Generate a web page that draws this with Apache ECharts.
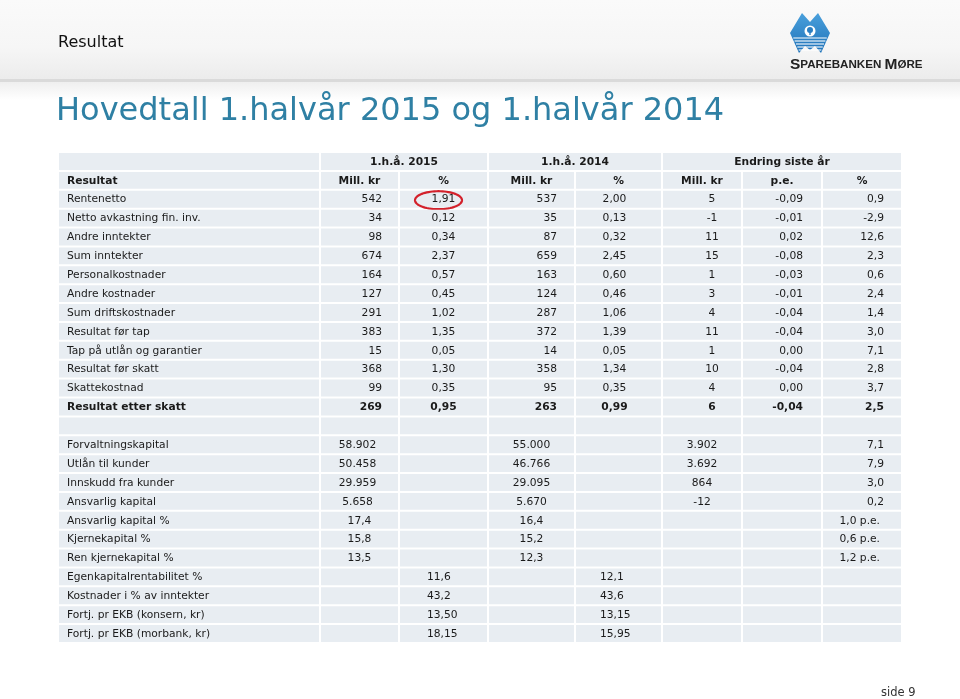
<!DOCTYPE html>
<html><head><meta charset="utf-8">
<script src="https://cdn.jsdelivr.net/npm/echarts@6/dist/echarts.min.js"></script>
<style>html,body{margin:0;padding:0;background:#fff}#c{width:960px;height:699px}</style>
</head><body><div id="c"></div>
<script>
// ---------- data ----------
const groupHeaders = ['1.h.å. 2015', '1.h.å. 2014', 'Endring siste år'];
const subHeaders = ['Resultat', 'Mill. kr', '%', 'Mill. kr', '%', 'Mill. kr', 'p.e.', '%'];

const resultLabels = ['Rentenetto', 'Netto avkastning fin. inv.', 'Andre inntekter', 'Sum inntekter',
  'Personalkostnader', 'Andre kostnader', 'Sum driftskostnader', 'Resultat før tap',
  'Tap på utlån og garantier', 'Resultat før skatt', 'Skattekostnad', 'Resultat etter skatt'];
const mill2015 = [542, 34, 98, 674, 164, 127, 291, 383, 15, 368, 99, 269];
const pct2015 = [1.91, 0.12, 0.34, 2.37, 0.57, 0.45, 1.02, 1.35, 0.05, 1.30, 0.35, 0.95];
const mill2014 = [537, 35, 87, 659, 163, 124, 287, 372, 14, 358, 95, 263];
const pct2014 = [2.00, 0.13, 0.32, 2.45, 0.60, 0.46, 1.06, 1.39, 0.05, 1.34, 0.35, 0.99];
const chgMill = [5, -1, 11, 15, 1, 3, 4, 11, 1, 10, 4, 6];
const chgPe = [-0.09, -0.01, 0.02, -0.08, -0.03, -0.01, -0.04, -0.04, 0.00, -0.04, 0.00, -0.04];
const chgPct = [0.9, -2.9, 12.6, 2.3, 0.6, 2.4, 1.4, 3.0, 7.1, 2.8, 3.7, 2.5];

const balanceLabels = ['Forvaltningskapital', 'Utlån til kunder', 'Innskudd fra kunder', 'Ansvarlig kapital'];
const bal2015 = [58902, 50458, 29959, 5658];
const bal2014 = [55000, 46766, 29095, 5670];
const balChg = [3902, 3692, 864, -12];
const balChgPct = [7.1, 7.9, 3.0, 0.2];

const capitalLabels = ['Ansvarlig kapital %', 'Kjernekapital %', 'Ren kjernekapital %'];
const cap2015 = [17.4, 15.8, 13.5];
const cap2014 = [16.4, 15.2, 12.3];
const capChgPe = [1.0, 0.6, 1.2];

const keyLabels = ['Egenkapitalrentabilitet %', 'Kostnader i % av inntekter',
  'Fortj. pr EKB (konsern, kr)', 'Fortj. pr EKB (morbank, kr)'];
const key2015 = [11.6, 43.2, 13.50, 18.15];
const key2014 = [12.1, 43.6, 13.15, 15.95];
const keyDecimals = [1, 1, 2, 2];

// ---------- layout ----------
const colEdges = [0, 262, 341, 430, 517, 604, 684, 764, 844];
const FONT = 'DejaVu Sans';
const FS = 10.7;
const CELL_BG = '#e8edf2';

const dec = (v, n) => v.toFixed(n).replace('.', ',');
const thou = v => (v < 0 ? '-' : '') + String(Math.abs(v)).replace(/\B(?=(\d{3})+(?!\d))/g, '.');

const cells = [];
function add(row, c0, c1, text, align, opt) {
  cells.push(Object.assign({ row, c0, c1, text: text, align: align || 'center', pad: 0, dx: 0, bold: false, hl: false }, opt || {}));
}
// header rows
add(0, 0, 0, '');
add(0, 1, 2, groupHeaders[0], 'center', { bold: true });
add(0, 3, 4, groupHeaders[1], 'center', { bold: true });
add(0, 5, 7, groupHeaders[2], 'center', { bold: true });
subHeaders.forEach((h, i) => add(1, i, i, h, i === 0 ? 'left' : 'center', { bold: true, pad: 9 }));
// result rows
resultLabels.forEach((lab, i) => {
  const r = 2 + i, b = i === resultLabels.length - 1;
  add(r, 0, 0, lab, 'left', { pad: 9, bold: b });
  add(r, 1, 1, String(mill2015[i]), 'right', { pad: 17, bold: b });
  add(r, 2, 2, dec(pct2015[i], 2), 'center', { bold: b, hl: i === 0 });
  add(r, 3, 3, String(mill2014[i]), 'right', { pad: 18, bold: b });
  add(r, 4, 4, dec(pct2014[i], 2), 'center', { dx: -4, bold: b });
  add(r, 5, 5, String(chgMill[i]), 'center', { dx: 10, bold: b });
  add(r, 6, 6, dec(chgPe[i], 2), 'right', { pad: 19, bold: b });
  add(r, 7, 7, dec(chgPct[i], 1), 'right', { pad: 18, bold: b });
});
// blank row
const blankRow = 2 + resultLabels.length;
for (let c = 0; c < 8; c++) add(blankRow, c, c, '');
// balance rows
balanceLabels.forEach((lab, i) => {
  const r = blankRow + 1 + i;
  add(r, 0, 0, lab, 'left', { pad: 9 });
  add(r, 1, 1, thou(bal2015[i]), 'center', { dx: -2 });
  add(r, 2, 2, '');
  add(r, 3, 3, thou(bal2014[i]), 'center');
  add(r, 4, 4, '');
  add(r, 5, 5, thou(balChg[i]), 'center');
  add(r, 6, 6, '');
  add(r, 7, 7, dec(balChgPct[i], 1), 'right', { pad: 18 });
});
// capital rows
capitalLabels.forEach((lab, i) => {
  const r = blankRow + 1 + balanceLabels.length + i;
  add(r, 0, 0, lab, 'left', { pad: 9 });
  add(r, 1, 1, dec(cap2015[i], 1), 'center');
  add(r, 2, 2, '');
  add(r, 3, 3, dec(cap2014[i], 1), 'center');
  add(r, 4, 4, '');
  add(r, 5, 5, '');
  add(r, 6, 6, '');
  add(r, 7, 7, dec(capChgPe[i], 1) + ' p.e.', 'right', { pad: 22 });
});
// key figure rows
keyLabels.forEach((lab, i) => {
  const r = blankRow + 1 + balanceLabels.length + capitalLabels.length + i;
  add(r, 0, 0, lab, 'left', { pad: 9 });
  add(r, 1, 1, '');
  add(r, 2, 2, dec(key2015[i], keyDecimals[i]), 'left', { pad: 28 });
  add(r, 3, 3, '');
  add(r, 4, 4, dec(key2014[i], keyDecimals[i]), 'left', { pad: 25 });
  add(r, 5, 5, '');
  add(r, 6, 6, '');
  add(r, 7, 7, '');
});
const nRows = blankRow + 1 + balanceLabels.length + capitalLabels.length + keyLabels.length;
const rowCats = Array.from({ length: nRows }, (_, i) => 'r' + i);

function renderItem(params, api) {
  const d = cells[params.dataIndex];
  const pL = api.coord([colEdges[d.c0], d.row]);
  const pR = api.coord([colEdges[d.c1 + 1], d.row]);
  const h = api.size([0, 1])[1];
  const x0 = pL[0], x1 = pR[0], cy = pL[1];
  const children = [{
    type: 'rect',
    shape: { x: x0 + 1, y: cy - h / 2 + 1, width: x1 - x0 - 2, height: h - 2 },
    style: { fill: CELL_BG }
  }];
  if (d.text) {
    let tx;
    if (d.align === 'left') tx = x0 + d.pad;
    else if (d.align === 'right') tx = x1 - d.pad;
    else tx = (x0 + x1) / 2;
    tx += d.dx;
    children.push({
      type: 'text',
      style: {
        x: tx, y: cy + 0.5, text: d.text, align: d.align, verticalAlign: 'middle',
        fontFamily: FONT, fontSize: FS, fontWeight: d.bold ? 'bold' : 'normal', fill: '#1a1a1a'
      }
    });
    if (d.hl) {
      const ecx = (x0 + x1) / 2 - 5, ecy = cy + 1, rx = 23.5, ry = 9;
      const pts = [];
      for (let k = 0; k < 72; k++) {
        const a = k / 72 * Math.PI * 2;
        pts.push([ecx + rx * Math.cos(a), ecy + ry * Math.sin(a)]);
      }
      children.push({
        type: 'polygon', shape: { points: pts },
        style: { fill: 'none', stroke: '#d3212b', lineWidth: 2.2 }
      });
    }
  }
  return { type: 'group', children };
}

// ---------- logo helpers ----------
const LX = 790, LY = 13;
const logoPts = [[0, 20], [12, 0], [20, 9], [28, 0], [40, 20], [31, 40], [25, 33], [20, 37], [15, 33], [9, 40]];
const stripes = [];
for (let y = 25; y <= 37; y += 3) {
  const inset = (y - 20) * 0.45;
  stripes.push({ type: 'line', shape: { x1: LX + inset + 1, y1: LY + y, x2: LX + 40 - inset - 1, y2: LY + y }, style: { stroke: '#ffffff', lineWidth: 1.1 } });
}

const chart = echarts.init(document.getElementById('c'), null, { renderer: 'canvas' });
chart.setOption({
  animation: false,
  backgroundColor: '#ffffff',
  title: [
    { text: 'Resultat', left: 53, top: 30, textStyle: { fontFamily: FONT, fontSize: 16, fontWeight: 'normal', color: '#111' } },
    { text: 'Hovedtall 1.halvår 2015 og 1.halvår 2014', left: 51, top: 91, textStyle: { fontFamily: FONT, fontSize: 32, fontWeight: 'normal', color: '#2f80a4' } }
  ],
  graphic: [
    { type: 'rect', z: -10, shape: { x: 0, y: 0, width: 960, height: 79 },
      style: { fill: new echarts.graphic.LinearGradient(0, 0, 0, 1, [{ offset: 0, color: '#fafafa' }, { offset: 0.6, color: '#f6f6f6' }, { offset: 1, color: '#ececec' }]) } },
    { type: 'rect', z: -10, shape: { x: 0, y: 79, width: 960, height: 3 }, style: { fill: '#dadada' } },
    { type: 'rect', z: -10, shape: { x: 0, y: 82, width: 960, height: 18 },
      style: { fill: new echarts.graphic.LinearGradient(0, 0, 0, 1, [{ offset: 0, color: '#efefef' }, { offset: 1, color: '#ffffff' }]) } },
    { type: 'polygon', shape: { points: logoPts.map(p => [LX + p[0], LY + p[1]]) },
      style: { fill: new echarts.graphic.LinearGradient(0, 0, 0, 1, [{ offset: 0, color: '#4aa0dc' }, { offset: 1, color: '#1f72b8' }]) } },
    ...stripes,
    { type: 'circle', shape: { cx: LX + 20, cy: LY + 18, r: 5.5 }, style: { fill: '#ffffff' } },
    { type: 'circle', shape: { cx: LX + 20, cy: LY + 17, r: 3 }, style: { fill: '#2b7fc2' } },
    { type: 'rect', shape: { x: LX + 19.3, y: LY + 18, width: 1.4, height: 4 }, style: { fill: '#2b7fc2' } },
    { type: 'text', x: 790, y: 57,
      style: { text: '{a|S}{b|PAREBANKEN }{a|M}{b|ØRE}', rich: {
        a: { fontFamily: "'Liberation Sans Narrow','Liberation Sans'", fontSize: 15.5, fontWeight: 'bold', fill: '#222' },
        b: { fontFamily: "'Liberation Sans Narrow','Liberation Sans'", fontSize: 11.6, fontWeight: 'bold', fill: '#222' } } } },
    { type: 'text', x: 881, y: 687, style: { text: 'side 9', fontFamily: FONT, fontSize: 11.5, fill: '#333' } }
  ],
  grid: { left: 58, right: 58, top: 152, bottom: 56, containLabel: false },
  xAxis: { type: 'value', min: 0, max: 844, show: false },
  yAxis: { type: 'category', data: rowCats, inverse: true, show: false },
  series: [{
    type: 'custom',
    clip: false,
    renderItem,
    encode: { x: 0, y: 1 },
    data: cells.map(c => [(colEdges[c.c0] + colEdges[c.c1 + 1]) / 2, c.row])
  }]
});
</script>
</body></html>
